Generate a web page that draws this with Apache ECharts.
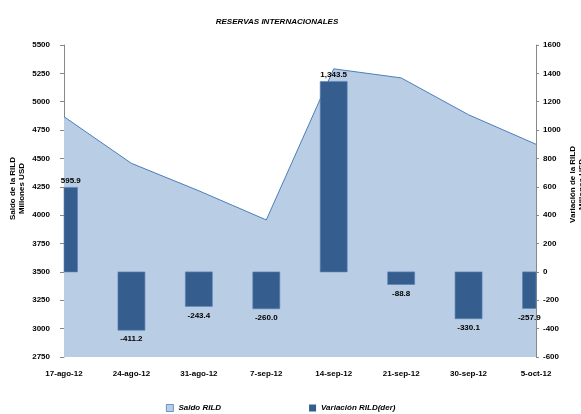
<!DOCTYPE html>
<html><head><meta charset="utf-8">
<script src="https://cdn.jsdelivr.net/npm/echarts@6/dist/echarts.min.js"></script>
<style>html,body{margin:0;padding:0;background:#fff}#c{width:581px;height:414px}</style>
</head><body><div id="c"></div>
<script>
const categories = ['17-ago-12','24-ago-12','31-ago-12','7-sep-12','14-sep-12','21-sep-12','30-sep-12','5-oct-12'];
const saldoRILD = [4868, 4457, 4215, 3958, 5290, 5210, 4885, 4625];
const variacionRILD = [595.9, -411.2, -243.4, -260.0, 1343.5, -88.8, -330.1, -257.9];
const leftTicks = [2750, 5500, 250];
const rightTicks = [-600, 1600, 200];

const FONT = '"Liberation Sans", Arial, sans-serif';
const chart = echarts.init(document.getElementById('c'));
const fmt = v => v.toLocaleString('en-US', {minimumFractionDigits: 1, maximumFractionDigits: 1});

chart.setOption({
  animation: false,
  textStyle: {fontFamily: FONT},
  title: {
    text: 'RESERVAS INTERNACIONALES', left: 272, top: 13, textAlign: 'center',
    textStyle: {fontFamily: FONT, fontSize: 8, fontWeight: 'bold', fontStyle: 'italic', color: '#000'}
  },
  legend: {
    left: 161, top: 399, itemWidth: 7, itemHeight: 7, itemGap: 88,
    textStyle: {fontFamily: FONT, fontSize: 8, fontWeight: 'bold', fontStyle: 'italic', color: '#000'},
    data: [
      {name: 'Saldo RILD', icon: 'rect', itemStyle: {color: '#B9CDE5', borderColor: '#4A7EBB', borderWidth: 0.8}},
      {name: 'Variación RILD(der)', icon: 'rect', itemStyle: {color: '#355E8F'}}
    ]
  },
  grid: {left: 64, right: 45, top: 45, bottom: 57},
  xAxis: {
    type: 'category', data: categories, boundaryGap: false,
    axisLine: {lineStyle: {color: '#888', width: 1}},
    axisTick: {show: true, length: 4, alignWithLabel: true, lineStyle: {color: '#888'}},
    axisLabel: {fontFamily: FONT, fontSize: 8, fontWeight: 'bold', color: '#000', margin: 13, interval: 0}
  },
  yAxis: [
    {
      type: 'value', min: leftTicks[0], max: leftTicks[1], interval: leftTicks[2], position: 'left',
      splitLine: {show: false},
      axisLine: {show: true, lineStyle: {color: '#888'}},
      axisTick: {show: true, length: 4, lineStyle: {color: '#888'}},
      axisLabel: {fontFamily: FONT, fontSize: 8, fontWeight: 'bold', color: '#000', margin: 14, formatter: v => String(v)}
    },
    {
      type: 'value', min: rightTicks[0], max: rightTicks[1], interval: rightTicks[2], position: 'right',
      splitLine: {show: false},
      axisLine: {show: true, lineStyle: {color: '#888'}},
      axisTick: {show: true, length: 3, lineStyle: {color: '#888'}},
      axisLabel: {fontFamily: FONT, fontSize: 8, fontWeight: 'bold', color: '#000', margin: 7, formatter: v => String(v)}
    }
  ],
  graphic: [
    {type: 'text', left: 8, top: 157, rotation: Math.PI / 2,
      style: {text: 'Saldo de la RILD\nMillones USD', fontFamily: FONT, fontSize: 8, fontWeight: 'bold', fill: '#000', textAlign: 'center', lineHeight: 9}},
    {type: 'text', left: 568, top: 146, rotation: Math.PI / 2,
      style: {text: 'Variación de la RILD\nMillones USD', fontFamily: FONT, fontSize: 8, fontWeight: 'bold', fill: '#000', textAlign: 'center', lineHeight: 9}}
  ],
  series: [
    {
      name: 'Saldo RILD', type: 'line', yAxisIndex: 0, data: saldoRILD,
      symbol: 'none', z: 1,
      lineStyle: {color: '#4A7EBB', width: 1},
      itemStyle: {color: '#B9CDE5'},
      areaStyle: {color: '#B9CDE5', opacity: 1, origin: 'start'}
    },
    {
      name: 'Variación RILD(der)', type: 'custom', yAxisIndex: 1, z: 3,
      itemStyle: {color: '#355E8F'},
      encode: {x: 0, y: 1},
      data: variacionRILD.map((v, i) => [i, v]),
      renderItem: function (params, api) {
        const v = api.value(1);
        const top = api.coord([api.value(0), v]);
        const base = api.coord([api.value(0), 0]);
        const w = 27;
        const cs = params.coordSys;
        const r = echarts.graphic.clipRectByRect(
          {x: top[0] - w / 2, y: Math.min(top[1], base[1]), width: w, height: Math.abs(base[1] - top[1])},
          {x: cs.x, y: cs.y, width: cs.width, height: cs.height});
        if (!r) return null;
        const cx = r.x + r.width / 2;
        return {
          type: 'group',
          children: [
            {type: 'rect', shape: r, style: {fill: '#355E8F', stroke: '#5A82B4', lineWidth: 0.6}},
            {type: 'text', style: {
              text: fmt(v), x: cx, y: v >= 0 ? r.y - 3 : r.y + r.height + 5,
              align: 'center', verticalAlign: v >= 0 ? 'bottom' : 'top',
              fontFamily: FONT, fontSize: 8, fontWeight: 'bold', fill: '#000'}}
          ]
        };
      }
    }
  ]
});
</script></body></html>
